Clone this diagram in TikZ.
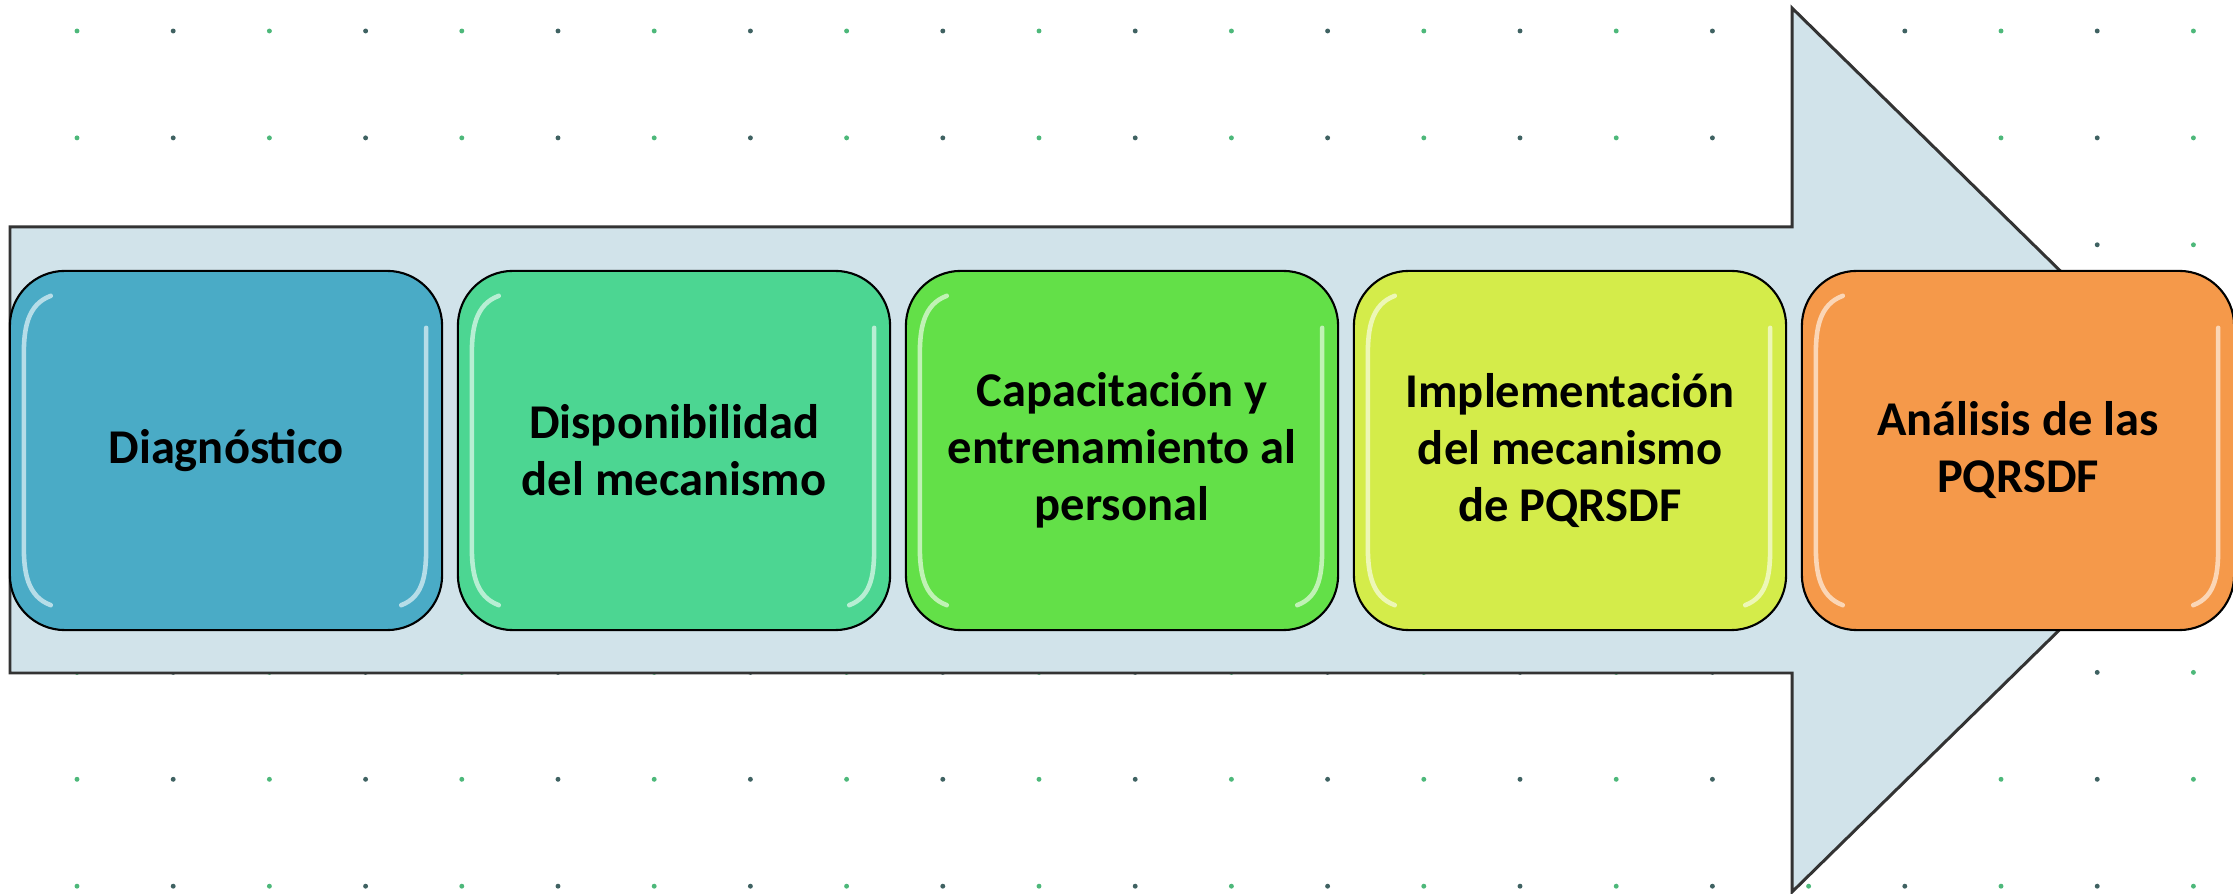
\documentclass[tikz,border=0pt]{standalone}
\usepackage{fontspec}
\setmainfont{Carlito}
\definecolor{azulD}{HTML}{4AABC6}
\definecolor{mentaD}{HTML}{4CD692}
\definecolor{verdeC}{HTML}{63E048}
\definecolor{limaI}{HTML}{D4EC4A}
\definecolor{naranjaA}{HTML}{F5994A}
\definecolor{fondoF}{HTML}{D1E3EA}
\definecolor{puntoV}{HTML}{4DB87A}
\definecolor{puntoG}{HTML}{3F6262}
\tikzset{
  flecha/.style={draw=black!80, fill=fondoF, line width=0.85pt, line join=miter},
  etapa/.style={draw=black, line width=0.6pt, rounded corners=0.55cm,
    minimum width=4.32cm, minimum height=3.59cm, align=center,
    font=\fontsize{13.8}{16.2}\selectfont\bfseries},
  brillo/.style={white, opacity=0.6, line width=1.3pt, line cap=round},
}
\begin{document}
\begin{tikzpicture}[x=0.01cm, y=0.01cm]
                \clip (0,0) rectangle (2233,894);
                \foreach \i in {0,2,...,22}
                    \foreach \j in {0,...,8}
                        \fill[puntoV] (77+\i*96.2, 863-\j*106.9) circle [radius=0.7pt];
                \foreach \i in {1,3,...,21}
                    \foreach \j in {0,...,8}
                        \fill[puntoG] (77+\i*96.2, 863-\j*106.9) circle [radius=0.7pt];
                \coordinate (A) at (10,667);
                \coordinate (B) at (1792,667);
                \coordinate (C) at (1792,886);
                \coordinate (D) at (2243,444);
                \coordinate (E) at (1792,2);
                \coordinate (F) at (1792,221);
                \coordinate (G) at (10,221);
                \draw[flecha] (A) -- (B) -- (C) -- (D) -- (E) -- (F) -- (G) -- cycle;
                \node[etapa, fill=azulD] (d1) at (226,443.5) {Diagnóstico};
                \node[etapa, fill=mentaD] (d2) at (674,443.5) {Disponibilidad\\del mecanismo};
                \node[etapa, fill=verdeC] (d3) at (1122,443.5) {Capacitación y\\entrenamiento al\\personal};
                \node[etapa, fill=limaI] (d4) at (1570,443.5) {Implementación\\del mecanismo\\de PQRSDF};
                \node[etapa, fill=naranjaA] (d5) at (2018,443.5) {Análisis de las\\PQRSDF};
                \foreach \b in {d1,d2,d3,d4,d5} {
                    \draw[brillo] ([shift={(42,-26)}]\b.north west) to[out=200,in=90] ([shift={(15,-85)}]\b.north west)
                        -- ([shift={(15,85)}]\b.south west) to[out=-90,in=160] ([shift={(42,26)}]\b.south west);
                    \draw[brillo] ([shift={(-17,-58)}]\b.north east) -- ([shift={(-17,85)}]\b.south east)
                        to[out=-90,in=20] ([shift={(-42,26)}]\b.south east);
                }
            \end{tikzpicture}
\end{document}
